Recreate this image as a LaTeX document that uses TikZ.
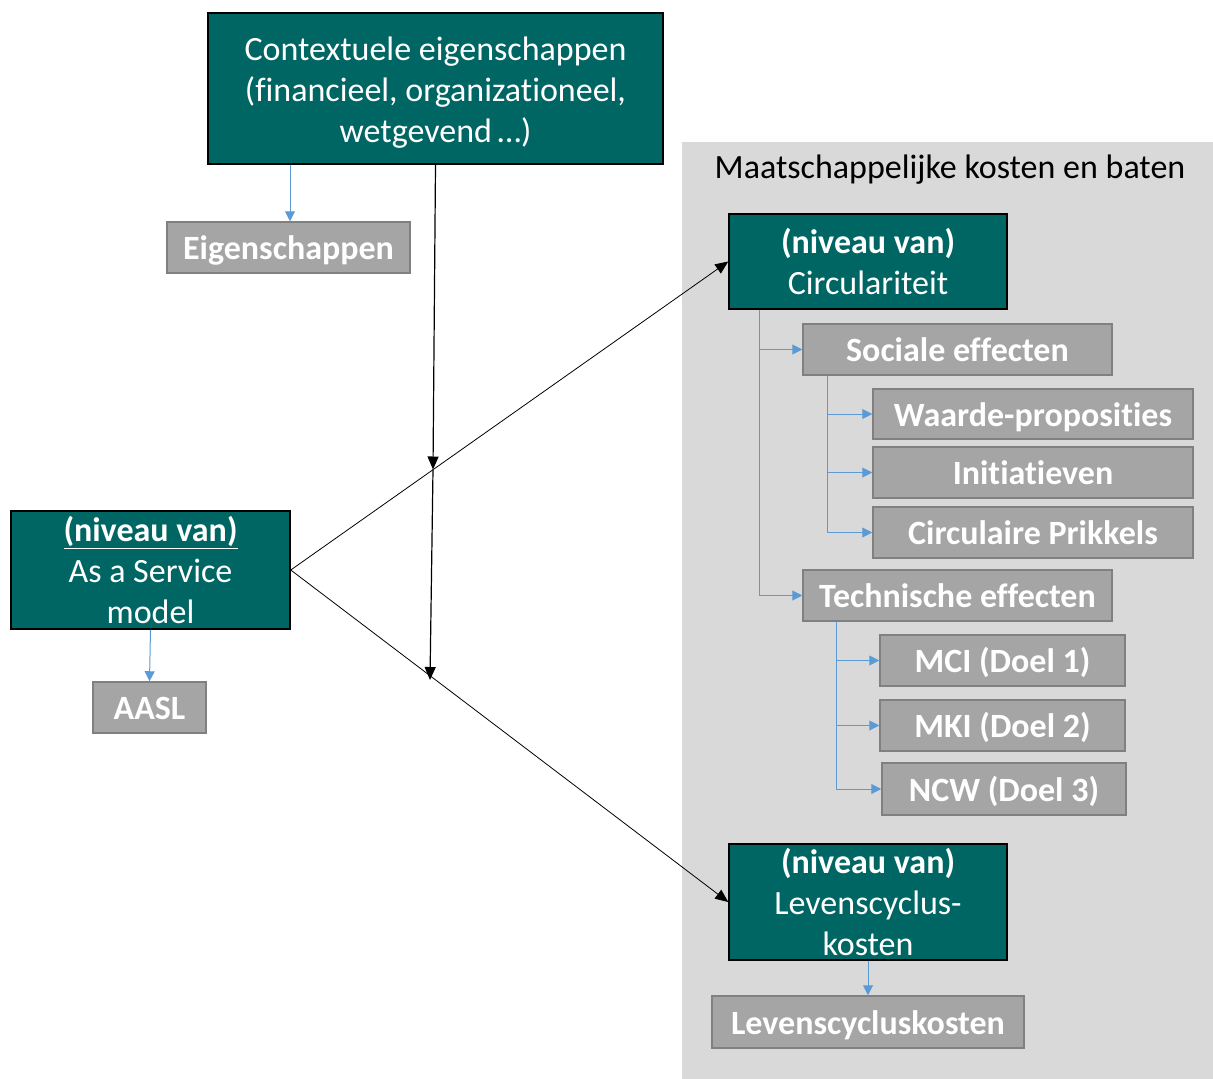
\documentclass[tikz,border=0pt]{standalone}
\usepackage{fontspec}
\setmainfont{Carlito}[Ligatures={NoCommon,NoContextual,NoRare}]
\usetikzlibrary{arrows.meta}
\definecolor{tealbox}{RGB}{0,102,99}
\definecolor{graybox}{RGB}{165,165,165}
\definecolor{grayedge}{RGB}{128,128,128}
\definecolor{panel}{RGB}{217,217,217}
\definecolor{linkblue}{RGB}{91,155,213}
\tikzset{
  levelbox/.style={draw=black, line width=1.5pt, fill=tealbox, text=white,
    font=\fontsize{34}{41}\selectfont, align=center, inner sep=0pt},
  itembox/.style={draw=grayedge, line width=1.5pt, fill=graybox, text=white,
    font=\fontsize{34}{41}\selectfont\bfseries, inner sep=0pt,
    text height=24pt, text depth=0pt},
  bluelink/.style={draw=linkblue, line width=1pt, -{Triangle[length=10pt,width=10pt]}},
  mainlink/.style={draw=black, line width=1pt, -{Triangle[length=13pt,width=11pt]}},
}
\begin{document}
\begin{tikzpicture}[x=1pt,y=-1pt]
\useasboundingbox (0,0) rectangle (1213,1079);

% grey panel for the social costs and benefits
\fill[panel] (682,142) rectangle (1213,1079);
\node[font=\fontsize{34}{41}\selectfont] (title) at (950,170) {Maatschappelijke kosten en baten};

% main levels
\node[levelbox, minimum width=455, minimum height=151] (ctx) at (435.5,88.5)
  {\rule{0pt}{32pt}Contextuele eigenschappen\\(financieel, organizationeel,\\wetgevend\,…)};
\node[levelbox, minimum width=279, minimum height=118] (aas) at (150.5,570)
  {\textbf{\underline{(niveau van)}}\\As a Service\\model};
\node[levelbox, minimum width=278, minimum height=95] (circ) at (868,261.5)
  {\textbf{(niveau van)}\\Circulariteit};
\node[levelbox, minimum width=278, minimum height=116] (lev) at (868,902)
  {\textbf{(niveau van)}\\Levenscyclus-\\kosten};

% indicators
\node[itembox, minimum width=243, minimum height=51] (eig) at (288.5,247.5) {Eigenschappen};
\node[itembox, minimum width=113, minimum height=51] (aasl) at (149.5,707.5) {AASL};
\node[itembox, minimum width=309, minimum height=51] (soc) at (957.5,349.5) {Sociale effecten};
\node[itembox, minimum width=320, minimum height=50] (waarde) at (1033,414) {Waarde-proposities};
\node[itembox, minimum width=320, minimum height=51] (init) at (1033,472.5) {Initiatieven};
\node[itembox, minimum width=320, minimum height=51] (prik) at (1033,532.5) {Circulaire Prikkels};
\node[itembox, minimum width=309, minimum height=51] (tech) at (957.5,595.5) {Technische effecten};
\node[itembox, minimum width=245, minimum height=51] (mci) at (1002.5,660.5) {MCI (Doel 1)};
\node[itembox, minimum width=245, minimum height=51] (mki) at (1002.5,725.5) {MKI (Doel 2)};
\node[itembox, minimum width=244, minimum height=52] (ncw) at (1004,789) {NCW (Doel 3)};
\node[itembox, minimum width=312, minimum height=52] (lck) at (868,1022) {Levenscycluskosten};

% influence lines
\coordinate (c1) at (433,469.5);
\coordinate (c2) at (430,680);
\draw[mainlink, line width=0.8pt] (aas.east) -- (circ.west);
\draw[mainlink, line width=0.8pt] (aas.east) -- (lev.west);
\draw[mainlink, line width=1.2pt] (ctx.south) -- (c1);
\draw[mainlink, line width=1.2pt] (c1) -- (c2);

% indicator links
\coordinate (ctxfoot) at ([xshift=-145.5pt]ctx.south);
\draw[bluelink] (ctxfoot) -- (ctxfoot |- eig.north);
\draw[bluelink] (aas.south) -- (aasl.north);
\draw[bluelink] (lev.south) -- (lck.north);
\coordinate (circfoot) at ([xshift=31pt]circ.south west);
\coordinate (socfoot) at ([xshift=25pt]soc.south west);
\coordinate (techfoot) at ([xshift=34pt]tech.south west);
\draw[bluelink] (circfoot) |- (soc.west);
\draw[bluelink] (circfoot) |- (tech.west);
\draw[bluelink] (socfoot) |- (waarde.west);
\draw[bluelink] (socfoot) |- (init.west);
\draw[bluelink] (socfoot) |- (prik.west);
\draw[bluelink] (techfoot) |- (mci.west);
\draw[bluelink] (techfoot) |- (mki.west);
\draw[bluelink] (techfoot) |- (ncw.west);
\end{tikzpicture}
\end{document}
